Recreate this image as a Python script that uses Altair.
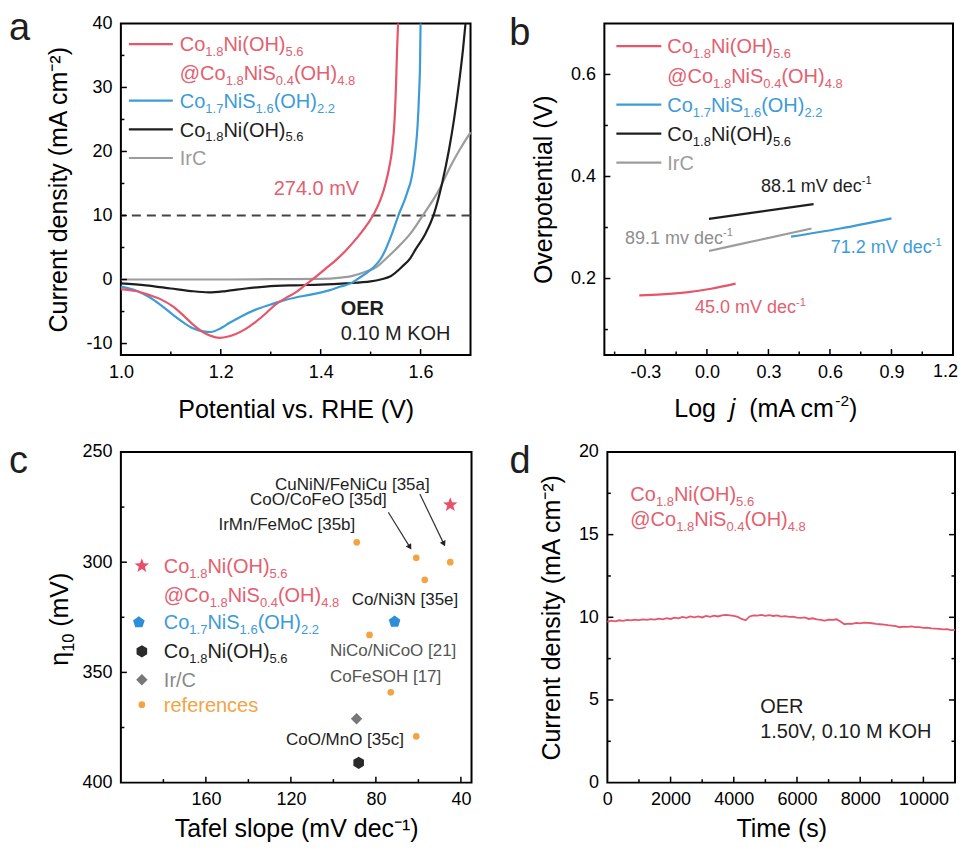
import math
import altair as alt
import pandas as pd

FONT = "Liberation Sans"
RED = "#E5566A"
RED_T = "#E3606F"
BLUE = "#3D9BD8"
BLACK = "#1E1E1E"
GRAY = "#9C9C9C"
ORANGE = "#F2A444"

# ---------------- panel a : polarisation curves ----------------
a_red_x = [1.00, 1.03, 1.056, 1.08, 1.104, 1.125, 1.144, 1.164, 1.18, 1.197, 1.215, 1.23, 1.25, 1.27, 1.29,
           1.31, 1.33, 1.35, 1.37, 1.39, 1.41, 1.43, 1.45, 1.465, 1.48, 1.495, 1.507, 1.52, 1.53, 1.538,
           1.543, 1.548, 1.551, 1.553, 1.555]
a_red_y = [-1.5, -1.8, -2.4, -3.1, -4.2, -5.6, -7.0, -8.2, -8.8, -9.1, -8.9, -8.5, -7.7, -6.6, -5.3,
           -3.9, -2.9, -2.0, -0.8, 0.4, 1.7, 3.0, 4.5, 5.8, 7.2, 8.8, 10.3, 12.5, 15.0, 17.8,
           20.3, 25.0, 30.7, 36.0, 40.0]
a_blue_x = [1.00, 1.03, 1.056, 1.08, 1.104, 1.125, 1.144, 1.165, 1.18, 1.20, 1.217, 1.24, 1.27, 1.30, 1.324,
            1.35, 1.377, 1.417, 1.44, 1.46, 1.48, 1.495, 1.507, 1.52, 1.53, 1.543, 1.557, 1.568, 1.575,
            1.58, 1.585, 1.59, 1.594, 1.597, 1.599, 1.60]
a_blue_y = [-1.1, -1.7, -2.7, -4.0, -5.5, -6.7, -7.6, -8.1, -8.2, -7.6, -6.8, -5.8, -4.7, -3.9, -3.3,
            -2.8, -2.4, -1.7, -1.1, -0.6, 0.4, 1.2, 2.0, 3.2, 4.7, 7.2, 10.3, 12.4, 14.0,
            15.2, 17.2, 20.3, 24.0, 29.0, 34.0, 40.0]
a_black_x = [1.00, 1.05, 1.10, 1.14, 1.176, 1.21, 1.25, 1.29, 1.35, 1.40, 1.45, 1.50, 1.52, 1.54, 1.563,
             1.58, 1.59, 1.61, 1.627, 1.643, 1.657, 1.667, 1.677, 1.685, 1.69]
a_black_y = [-0.6, -0.9, -1.4, -1.8, -2.0, -1.8, -1.4, -1.1, -0.9, -0.8, -0.6, -0.3, 0.0, 0.5, 2.0,
             3.4, 4.7, 7.2, 10.3, 15.0, 20.3, 25.0, 30.7, 36.0, 40.0]
a_gray_x = [1.00, 1.10, 1.20, 1.30, 1.40, 1.44, 1.46, 1.49, 1.513, 1.53, 1.55, 1.58, 1.607, 1.637, 1.66, 1.68, 1.70]
a_gray_y = [0.0, 0.0, 0.0, 0.05, 0.1, 0.3, 0.5, 1.2, 2.0, 3.2, 4.7, 7.2, 10.3, 14.0, 17.7, 20.5, 23.0]
a_ref_line = [10]

# ---------------- panel b : Tafel plots ----------------
b_red_x = [-0.33, -0.22, -0.10, 0.02, 0.14]
b_red_y = [0.167, 0.169, 0.173, 0.180, 0.190]
b_blue_x = [0.41, 0.65, 0.90]
b_blue_y = [0.282, 0.298, 0.318]
b_black_x = [0.01, 0.26, 0.52]
b_black_y = [0.317, 0.331, 0.346]
b_gray_x = [0.01, 0.26, 0.51]
b_gray_y = [0.254, 0.276, 0.298]

# ---------------- panel c : comparison ----------------
ref_names = ["IrMn/FeMoC [35b]", "CoO/CoFeO [35d]", "CuNiN/FeNiCu [35a]", "Co/Ni3N [35e]",
             "NiCo/NiCoO [21]", "CoFeSOH [17]", "CoO/MnO [35c]"]
ref_tafel = [89, 61, 45, 57, 83, 73, 61]
ref_eta = [291, 298, 300, 308, 333, 359, 379]
star_pt = (45.0, 274)
pent_pt = (71.2, 327)
hex_pt = (88.1, 391)
diam_pt = (89.1, 371)

# ---------------- panel d : stability ----------------
d_step = 125
d_j = [9.72, 9.80, 9.76, 9.82, 9.79, 9.84, 9.81, 9.86, 9.83, 9.87, 9.84, 9.89, 9.86, 9.92, 9.88, 9.95,
       9.90, 9.98, 9.94, 10.02, 9.97, 10.05, 10.00, 10.06, 9.99, 10.08, 10.03, 10.10, 10.05, 10.12, 10.15,
       10.12, 10.08, 10.02, 9.90, 9.82, 10.05, 10.12, 10.10, 10.14, 10.09, 10.13, 10.08, 10.11, 10.04,
       10.07, 10.02, 10.04, 9.98, 9.96, 9.99, 9.90, 9.94, 9.87, 9.85, 9.80, 9.86, 9.84, 9.88, 9.75, 9.58,
       9.62, 9.60, 9.66, 9.63, 9.68, 9.66, 9.64, 9.60, 9.58, 9.56, 9.52, 9.49, 9.46, 9.40, 9.44, 9.42,
       9.45, 9.41, 9.40, 9.36, 9.38, 9.33, 9.32, 9.30, 9.27, 9.29, 9.22, 9.24]
d_t = [i * d_step for i in range(len(d_j))]

# ---------------- helpers ----------------
AW = {" ": 278, "(": 333, ")": 333, ",": 278, "-": 333, ".": 278, "/": 278, "@": 1015, "[": 278, "]": 278,
      "A": 667, "C": 722, "E": 667, "F": 611, "H": 722, "I": 278, "K": 667, "L": 556, "M": 833, "N": 722,
      "O": 778, "R": 722, "S": 667, "V": 667, "a": 556, "b": 556, "c": 500, "d": 556, "e": 556, "f": 278,
      "g": 556, "i": 222, "j": 222, "m": 833, "n": 556, "o": 556, "r": 333, "s": 500, "u": 556, "v": 500,
      "η": 556}


def tw(s, fs):
    return sum(AW.get(ch, 556) for ch in s) * fs / 1000.0


def label_expr(fmt):
    return f"datum.value < 0 ? '-' + format(-datum.value, '{fmt}') : format(datum.value, '{fmt}')"


def make_axis(title, values, fmt, tpad, lpad=8):
    kw = dict(values=values, labelExpr=label_expr(fmt), ticks=False, domain=False,
              grid=False, labelFont=FONT, labelFontSize=18, labelColor="black", labelPadding=lpad,
              labelFlush=False, labelOverlap=False, titleFont=FONT, titleFontSize=25,
              titleFontWeight="normal", titleColor="black", titlePadding=tpad)
    if title is None:
        return alt.Axis(title=None, **kw)
    return alt.Axis(title=title, **kw)


def poly_path(pts):
    return "M" + "L".join(f"{x:.3f},{y:.3f}" for x, y in pts) + "Z"


STAR = poly_path([((1.0 if k % 2 == 0 else 0.42) * math.cos(math.radians(-90 + 36 * k)),
                   (1.0 if k % 2 == 0 else 0.42) * math.sin(math.radians(-90 + 36 * k))) for k in range(10)])
PENT = poly_path([(math.cos(math.radians(-90 + 72 * k)), math.sin(math.radians(-90 + 72 * k))) for k in range(5)])
HEXA = poly_path([(math.cos(math.radians(-90 + 60 * k)), math.sin(math.radians(-90 + 60 * k))) for k in range(6)])


class Panel:
    def __init__(self, xdom, ydom, W, H, xaxis, yaxis, xrev=False, yrev=False):
        self.xdom, self.ydom, self.W, self.H = xdom, ydom, W, H
        self.xrev, self.yrev = xrev, yrev
        self.xs = alt.Scale(domain=xdom, reverse=xrev, nice=False, zero=False)
        self.ys = alt.Scale(domain=ydom, reverse=yrev, nice=False, zero=False)
        self.xaxis, self.yaxis = xaxis, yaxis
        self.layers = []

    def X(self, f="x"):
        return alt.X(f"{f}:Q", scale=self.xs, axis=self.xaxis)

    def Y(self, f="y"):
        return alt.Y(f"{f}:Q", scale=self.ys, axis=self.yaxis)

    def conv(self, dx, dy):
        fx, fy = dx / self.W, dy / self.H
        rx = self.xdom[1] - self.xdom[0]
        ry = self.ydom[1] - self.ydom[0]
        x = self.xdom[1] - fx * rx if self.xrev else self.xdom[0] + fx * rx
        y = self.ydom[0] + fy * ry if self.yrev else self.ydom[1] - fy * ry
        return x, y

    def line(self, xv, yv, color, sw=2.2, interp="monotone"):
        df = pd.DataFrame({"x": xv, "y": yv})
        self.layers.append(alt.Chart(df).mark_line(color=color, strokeWidth=sw, interpolate=interp)
                           .encode(x=self.X(), y=self.Y()))

    def rich(self, segs, dx, base, fs, color, weight="normal", vertical=False):
        """Rich text; horizontal: starts at (dx, base). vertical (angle 270): baseline at x=dx,
        text starts at y=base and runs upward."""
        groups = {}
        adv = 0.0
        for txt, kind in segs:
            style = "normal"
            if kind == "b":
                s, off = round(fs * 0.65, 2), fs * 0.25
            elif kind == "p":
                s, off = round(fs * 0.62, 2), -fs * 0.42
            elif kind == "i":
                s, off, style = fs, 0.0, "italic"
            else:
                s, off = fs, 0.0
            stripped = txt.lstrip(" ")
            lead = tw(txt[:len(txt) - len(stripped)], s)
            if stripped:
                if vertical:
                    X, Y = self.conv(dx + off, base - adv - lead)
                else:
                    X, Y = self.conv(dx + adv + lead, base + off)
                groups.setdefault((s, style), []).append({"x": X, "y": Y, "t": stripped})
            adv += tw(txt, s)
        for (s, style), rows in groups.items():
            self.layers.append(alt.Chart(pd.DataFrame(rows))
                               .mark_text(align="left", baseline="alphabetic", font=FONT, color=color,
                                          fontWeight=weight, fontSize=s, fontStyle=style,
                                          angle=270 if vertical else 0)
                               .encode(x=self.X(), y=self.Y(), text="t:N"))

    def seg(self, dx1, dy1, dx2, dy2, color, sw=2.2):
        x1, y1 = self.conv(dx1, dy1)
        x2, y2 = self.conv(dx2, dy2)
        df = pd.DataFrame({"x": [x1], "y": [y1], "x2": [x2], "y2": [y2]})
        self.layers.append(alt.Chart(df).mark_rule(color=color, strokeWidth=sw)
                           .encode(x=self.X(), x2="x2:Q", y=self.Y(), y2="y2:Q"))

    def xticks(self, vals, L):
        df = pd.DataFrame({"x": vals})
        self.layers.append(alt.Chart(df).mark_rule(color="black", strokeWidth=1.5)
                           .encode(x=self.X(), y=alt.value(self.H), y2=alt.value(self.H - L)))

    def yticks(self, vals, L, right=False):
        df = pd.DataFrame({"y": vals})
        x0 = self.W if right else 0
        x1 = self.W - L if right else L
        self.layers.append(alt.Chart(df).mark_rule(color="black", strokeWidth=1.5)
                           .encode(y=self.Y(), x=alt.value(x0), x2=alt.value(x1)))

    def chart(self):
        return alt.layer(*self.layers).properties(width=self.W, height=self.H)


F1 = [("Co", "n"), ("1.8", "b"), ("Ni(OH)", "n"), ("5.6", "b")]
F2 = [("@Co", "n"), ("1.8", "b"), ("NiS", "n"), ("0.4", "b"), ("(OH)", "n"), ("4.8", "b")]
F3 = [("Co", "n"), ("1.7", "b"), ("NiS", "n"), ("1.6", "b"), ("(OH)", "n"), ("2.2", "b")]

LET_X = -112
LET_Y1 = 17
LET_YB = 22
LET_Y2 = 21
H1 = 332
H2 = 331

# ================= panel a =================
pa = Panel([1.0, 1.7], [-11.8, 40], 350, H1,
           make_axis("Potential vs. RHE (V)", [1.0, 1.2, 1.4, 1.6], ".1f", 16),
           make_axis("Current density (mA cm⁻²)", [-10, 0, 10, 20, 30, 40], "d", 14, lpad=9))
pa.layers.append(alt.Chart(pd.DataFrame({"y": a_ref_line}))
                 .mark_rule(color="#444444", strokeWidth=1.8, strokeDash=[9, 6]).encode(y=pa.Y()))
pa.line(a_gray_x, a_gray_y, GRAY)
pa.line(a_black_x, a_black_y, BLACK)
pa.line(a_blue_x, a_blue_y, BLUE)
pa.line(a_red_x, a_red_y, RED)
pa.xticks([1.0, 1.2, 1.4, 1.6], 6)
pa.xticks([1.1, 1.3, 1.5], 3.5)
pa.yticks([-10, 0, 10, 20, 30], 6)
pa.yticks([-5, 5, 15, 25, 35], 3.5)
for dy, col in [(20.7, RED), (77.3, BLUE), (106, BLACK), (134.7, GRAY)]:
    pa.seg(8, dy, 52, dy, col, 2.2)
pa.rich(F1, 59, 27.9, 20, RED_T)
pa.rich(F2, 59, 56.2, 20, RED_T)
pa.rich(F3, 59, 84.5, 20, BLUE)
pa.rich(F1, 59, 113.2, 20, BLACK)
pa.rich([("IrC", "n")], 59, 141.9, 20, GRAY)
pa.rich([("274.0 mV", "n")], 153, 172.2, 20, RED_T)
pa.rich([("OER", "n")], 220, 291.9, 20, BLACK, weight="bold")
pa.rich([("0.10 M KOH", "n")], 220, 316.9, 20, BLACK)
pa.rich([("a", "n")], LET_X, LET_Y1, 38, BLACK)

# ================= panel b =================
pb = Panel([-0.5, 1.2], [0.05, 0.7], 349, H1,
           make_axis(None, [-0.3, 0.0, 0.3, 0.6, 0.9], ".1f", 16),
           make_axis("Overpotential (V)", [0.2, 0.4, 0.6], ".1f", 14, lpad=9))
pb.line(b_red_x, b_red_y, RED)
pb.line(b_blue_x, b_blue_y, BLUE)
pb.line(b_black_x, b_black_y, BLACK)
pb.line(b_gray_x, b_gray_y, GRAY)
pb.xticks([-0.3, 0.0, 0.3, 0.6, 0.9], 6)
pb.xticks([-0.45, -0.15, 0.15, 0.45, 0.75, 1.05], 3.5)
pb.yticks([0.2, 0.4, 0.6], 6)
pb.yticks([0.1, 0.3, 0.5], 3.5)
for dy, col in [(22.7, RED), (81.3, BLUE), (110.3, BLACK), (139.3, GRAY)]:
    pb.seg(12, dy, 57, dy, col, 2.2)
pb.rich(F1, 63, 29.9, 20, RED_T)
pb.rich(F2, 63, 59.2, 20, RED_T)
pb.rich(F3, 63, 88.5, 20, BLUE)
pb.rich(F1, 63, 117.5, 20, BLACK)
pb.rich([("IrC", "n")], 63, 146.5, 20, GRAY)
pb.rich([("88.1 mV dec", "n"), ("-1", "p")], 156.7, 168.4, 18, BLACK)
pb.rich([("89.1 mv dec", "n"), ("-1", "p")], 20.7, 220.7, 18, "#8E8E8E")
pb.rich([("71.2 mV dec", "n"), ("-1", "p")], 226.7, 230.1, 18, BLUE)
pb.rich([("45.0 mV dec", "n"), ("-1", "p")], 90.7, 290.1, 18, RED_T)
pb.rich([("1.2", "n")], 349 + 5 - tw("1.2", 18), H1 + 22, 18, "black")
pb.rich([("Log  ", "n"), ("j", "i"), ("  (mA cm", "n"), ("-2", "p"), (")", "n")], 70, H1 + 61.5, 25, "black")
pb.rich([("b", "n")], -95.3, LET_YB, 38, BLACK)

# ================= panel c =================
pc = Panel([35, 200], [250, 400], 351, H2,
           make_axis("Tafel slope (mV dec⁻¹)", [160, 120, 80, 40], "d", 8),
           make_axis(None, [250, 300, 350, 400], "d", 14, lpad=9), xrev=True, yrev=True)
lx, _ = pc.conv(21, 0)
lxp, _ = pc.conv(18, 0)
pts = [
    ([star_pt[0], lx], [star_pt[1], pc.conv(21, 114)[1]], STAR, 230, "#E8506A"),
    ([pent_pt[0], lxp], [pent_pt[1], pc.conv(18, 170.5)[1]], PENT, 150, "#2E8FD8"),
    ([hex_pt[0], lx], [hex_pt[1], pc.conv(21, 199.5)[1]], HEXA, 150, "#2A2A2A"),
    ([diam_pt[0], lx], [diam_pt[1], pc.conv(21, 228)[1]], "diamond", 130, "#777777"),
    (ref_tafel + [lx], ref_eta + [pc.conv(21, 253)[1]], "circle", 45, ORANGE),
]
for xv, yv, shape, size, col in pts:
    pc.layers.append(alt.Chart(pd.DataFrame({"x": xv, "y": yv}))
                     .mark_point(shape=shape, size=size, filled=True, color=col, opacity=1)
                     .encode(x=pc.X(), y=pc.Y()))
for (sx, sy, ex, ey) in [(267.7, 60.3, 289.3, 95.3), (299.3, 42.0, 323.3, 92.0)]:
    pc.seg(sx, sy, ex, ey, "#333333", 1.2)
    ang = math.degrees(math.atan2(ex - sx, -(ey - sy)))
    x2, y2 = pc.conv(ex, ey)
    pc.layers.append(alt.Chart(pd.DataFrame({"x": [x2], "y": [y2]}))
                     .mark_point(shape="triangle-up", size=40, filled=True, color="#222222", opacity=1,
                                 angle=round(ang % 360, 1))
                     .encode(x=pc.X(), y=pc.Y()))
pc.xticks([160, 120, 80, 40], 6)
pc.xticks([180, 140, 100, 60], 3.5)
pc.yticks([300, 350], 6)
pc.yticks([275, 325, 375], 3.5)
pc.rich(F1, 43, 121.2, 20, RED_T)
pc.rich(F2, 43, 149.7, 20, RED_T)
pc.rich(F3, 43, 177.7, 20, BLUE)
pc.rich(F1, 43, 206.7, 20, BLACK)
pc.rich([("Ir/C", "n")], 43, 235.2, 20, "#8A8A8A")
pc.rich([("references", "n")], 43, 260.2, 20, ORANGE)
lab_pos = [(97.7, 78.1), (129.3, 53.1), (154.3, 38.1), (231, 153.1), (209.3, 204.1), (209.3, 230.4),
           (165.3, 293.8)]
lab_col = [BLACK, BLACK, BLACK, BLACK, "#555555", "#555555", BLACK]
for name, (dx, by), col in zip(ref_names, lab_pos, lab_col):
    pc.rich([(name, "n")], dx, by, 17, col)
pc.rich([("η", "n"), ("10", "b"), (" (mV)", "n")], -53, 214, 25, "black", vertical=True)
pc.rich([("c", "n")], LET_X, LET_Y2, 38, BLACK)

# ================= panel d =================
pd_ = Panel([0, 11000], [0, 20], 348, H2,
            make_axis("Time (s)", [0, 2000, 4000, 6000, 8000, 10000], "d", 8),
            make_axis("Current density (mA cm⁻²)", [0, 5, 10, 15, 20], "d", 14, lpad=9))
pd_.line(d_t, d_j, RED, sw=1.8, interp="linear")
pd_.xticks([2000, 4000, 6000, 8000, 10000], 6)
pd_.xticks([1000, 3000, 5000, 7000, 9000], 3.5)
pd_.yticks([5, 10, 15], 6)
pd_.yticks([2.5, 7.5, 12.5, 17.5], 3.5)
pd_.yticks([5, 10, 15], 6, right=True)
pd_.yticks([2.5, 7.5, 12.5, 17.5], 3.5, right=True)
pd_.rich(F1, 23, 49.2, 20, RED_T)
pd_.rich(F2, 23, 73.7, 20, RED_T)
pd_.rich([("OER", "n")], 153, 260.9, 20, BLACK)
pd_.rich([("1.50V, 0.10 M KOH", "n")], 153, 285.9, 20, BLACK)
pd_.rich([("d", "n")], -98, LET_Y2, 38, BLACK)

row1 = alt.hconcat(pa.chart(), pb.chart(), spacing=31)
row2 = alt.hconcat(pc.chart(), pd_.chart(), spacing=36)
chart = (alt.vconcat(row1, row2, spacing=18)
         .configure_view(stroke="black", strokeWidth=2)
         .properties(padding={"left": 0, "top": 0, "right": 0, "bottom": 0}, background="white"))

chart.save("out.html", embed_options={"renderer": "svg", "actions": False})
